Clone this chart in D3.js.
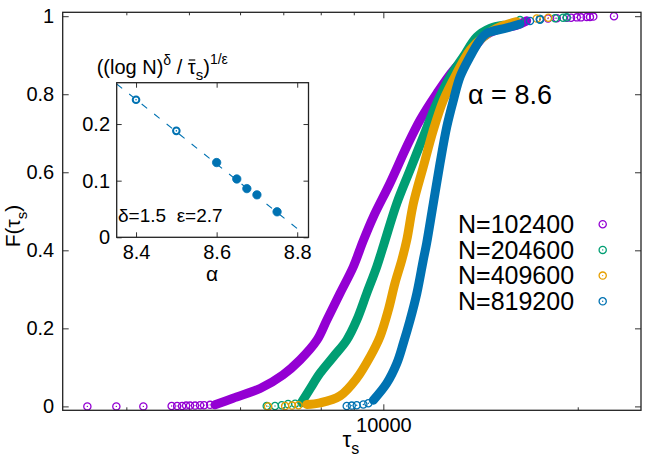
<!DOCTYPE html>
<html>
<head>
<meta charset="utf-8">
<script src="https://cdn.jsdelivr.net/npm/d3@7"></script>
<style>
  body { margin: 0; background: #fff; }
  text { font-family: "Liberation Sans", Arial, sans-serif; fill: #000; }
</style>
</head>
<body>
<svg id="chart" width="664" height="465"></svg>
<script>
// series labels + gnuplot default colours
const seriesLabels = ["N=102400", "N=204600", "N=409600", "N=819200"];
const seriesColors = ["#9400d3", "#009e73", "#e69f00", "#0072b2"];

// empirical CDF, dense part [tau, F]
const band102400 = [[5488,0.004],[5853,0.021],[6444,0.046],[6993,0.081],[7430,0.119],[7894,0.170],[8173,0.221],[8570,0.290],[8985,0.358],[9300,0.423],[9650,0.486],[10240,0.572],[10870,0.666],[11400,0.734],[12100,0.802],[12840,0.862],[13620,0.905],[14290,0.947],[14980,0.965],[16090,0.977],[16670,0.988]];
const band204600 = [[7475,0.011],[7700,0.045],[7980,0.085],[8366,0.127],[8776,0.170],[9095,0.221],[9426,0.290],[9768,0.358],[10030,0.418],[10490,0.520],[11000,0.606],[11530,0.691],[12100,0.777],[12690,0.845],[13300,0.896],[13950,0.947],[14630,0.969],[15340,0.977]];
const band409600 = [[7610,0.005],[7980,0.009],[8570,0.027],[9095,0.072],[9537,0.127],[9883,0.179],[10180,0.247],[10420,0.315],[10680,0.375],[10870,0.426],[11130,0.520],[11530,0.614],[11950,0.708],[12390,0.785],[12990,0.854],[13620,0.913],[14290,0.947],[14980,0.969],[16090,0.986]];
const band819200 = [[9650,0.016],[10120,0.059],[10490,0.110],[10740,0.162],[11000,0.221],[11270,0.290],[11530,0.375],[11670,0.418],[11950,0.520],[12240,0.623],[12540,0.717],[12840,0.785],[13150,0.845],[13620,0.896],[14120,0.939],[14460,0.956],[15530,0.970],[16280,0.980]];

// sparse tail samples [tau, F]
const tail102400 = [[3481,0],[3860,0],[4250,0],[4701,0.001],[4794,0.001],[4880,0.001],[4950,0.002],[5020,0.002],[5110,0.002],[5203,0.003],[5278,0.003],[5392,0.004],
  [17480,0.993],[17990,0.994],[18560,0.995],[19230,0.996],[19530,0.996],[19930,0.997],[20230,0.997],[20650,0.998],[20890,0.998],[21140,0.999],[22760,1.0]];
const tail204600 = [[6598,0.001],[6796,0.001],[6961,0.003],[7120,0.006],[7302,0.007],[7475,0.009],
  [16280,0.990],[17480,0.993],[18450,0.995],[18980,0.996],[19230,0.997]];
const tail409600 = [[6630,0],[7046,0.001],[7223,0.002],[7388,0.003],
  [17280,0.994],[18010,0.996]];
const tail819200 = [[8776,0.001],[8935,0.002],[9095,0.003],[9312,0.005],[9480,0.008],
  [16870,0.988],[17480,0.991]];

const bands = [band102400, band204600, band409600, band819200];
const tails = [tail102400, tail204600, tail409600, tail819200];

// axis ticks
const xMajor = [10000];
const xMinor = [4000, 5000, 6000, 7000, 8000, 9000, 20000];
const yTicks = [0, 0.2, 0.4, 0.6, 0.8, 1];

// inset: scaling collapse vs alpha
const insetAlpha = [8.4, 8.5, 8.6, 8.65, 8.675, 8.7, 8.75];
const insetValue = [0.243, 0.188, 0.132, 0.103, 0.086, 0.075, 0.045];
const insetMarker = ["open", "open", "filled", "filled", "filled", "filled", "filled"];
const fitSlope = -0.57, fitZero = 8.827;   // dashed fit line
const insetXTicks = [8.4, 8.6, 8.8];
const insetYTicks = [0, 0.1, 0.2];

const svg = d3.select("#chart");
svg.append("rect").attr("width", 664).attr("height", 465).attr("fill", "#fff");

const pLeft = 62.7, pRight = 641, pTop = 12.3, pBottom = 410.3;
const x = d3.scaleLog().domain([3188, 25060]).range([pLeft, pRight]);
const y = d3.scaleLinear().domain([-0.01, 1.01]).range([pBottom, pTop]);

function styleAxis(g, size) {
  g.select(".domain").remove();
  g.attr("font-family", "'Liberation Sans', Arial, sans-serif").attr("font-size", size);
  g.selectAll("line").attr("stroke", "#333").attr("stroke-width", 1);
  g.selectAll("text").attr("fill", "#000");
}

// main axes, ticks inward and mirrored
svg.append("g").attr("transform", `translate(0,${pBottom})`)
  .call(d3.axisBottom(x).tickValues(xMajor).tickSize(-6).tickPadding(7.2).tickFormat(d3.format("d")))
  .call(g => styleAxis(g, 20));
svg.append("g").attr("transform", `translate(0,${pBottom})`)
  .call(d3.axisBottom(x).tickValues(xMinor).tickSize(-3).tickFormat(""))
  .call(g => styleAxis(g, 20));
svg.append("g").attr("transform", `translate(0,${pTop})`)
  .call(d3.axisTop(x).tickValues(xMajor).tickSize(-6).tickFormat(""))
  .call(g => styleAxis(g, 20));
svg.append("g").attr("transform", `translate(0,${pTop})`)
  .call(d3.axisTop(x).tickValues(xMinor).tickSize(-3).tickFormat(""))
  .call(g => styleAxis(g, 20));
svg.append("g").attr("transform", `translate(${pLeft},0)`)
  .call(d3.axisLeft(y).tickValues(yTicks).tickSize(-6).tickPadding(8.5).tickFormat(d => String(d)))
  .call(g => styleAxis(g, 20));
svg.append("g").attr("transform", `translate(${pRight},0)`)
  .call(d3.axisRight(y).tickValues(yTicks).tickSize(-6).tickFormat(""))
  .call(g => styleAxis(g, 20));

// curves
const line = d3.line().x(d => x(d[0])).y(d => y(d[1])).curve(d3.curveCatmullRom);
bands.forEach((band, i) => {
  const g = svg.append("g");
  g.append("path").datum(band)
    .attr("d", line)
    .attr("fill", "none")
    .attr("stroke", seriesColors[i])
    .attr("stroke-width", 9)
    .attr("stroke-linecap", "round")
    .attr("stroke-linejoin", "round");
  const pts = g.selectAll("g.pt").data(tails[i]).join("g").attr("class", "pt")
    .attr("transform", d => `translate(${x(d[0])},${y(d[1])})`);
  pts.append("circle").attr("r", 3.6).attr("fill", "none")
    .attr("stroke", seriesColors[i]).attr("stroke-width", 1.3);
  pts.append("circle").attr("r", 0.7).attr("fill", seriesColors[i]);
});

// frame
svg.append("rect").attr("x", pLeft).attr("y", pTop)
  .attr("width", pRight - pLeft).attr("height", pBottom - pTop)
  .attr("fill", "none").attr("stroke", "#222").attr("stroke-width", 1.3);

// legend
const legend = svg.append("g");
seriesLabels.forEach((lab, i) => {
  const by = 233 + i * 25.7;
  legend.append("text").attr("x", 458).attr("y", by).attr("font-size", 25).text(lab);
  const p = legend.append("g").attr("transform", `translate(602.7,${by - 8.8})`);
  p.append("circle").attr("r", 3.6).attr("fill", "none")
    .attr("stroke", seriesColors[i]).attr("stroke-width", 1.3);
  p.append("circle").attr("r", 0.7).attr("fill", seriesColors[i]);
});

svg.append("text").attr("x", 468).attr("y", 104).attr("font-size", 27).text("α = 8.6");

// axis labels
const xl = svg.append("text").attr("x", 342.5).attr("y", 446.5).attr("font-size", 22);
xl.append("tspan").text("τ");
xl.append("tspan").attr("font-size", 16).attr("dy", 7).text("s");

const yl = svg.append("text").attr("transform", "translate(19.5,226) rotate(-90)")
  .attr("text-anchor", "middle").attr("font-size", 21);
yl.append("tspan").text("F(τ");
yl.append("tspan").attr("font-size", 15).attr("dy", 7).text("s");
yl.append("tspan").attr("dy", -7).text(")");

// inset
const iLeft = 116.7, iRight = 308.5, iTop = 82.7, iBottom = 237.3;
const ix = d3.scaleLinear().domain([8.352, 8.828]).range([iLeft, iRight]);
const iy = d3.scaleLinear().domain([0, 0.273]).range([iBottom, iTop]);

svg.append("rect").attr("x", iLeft).attr("y", iTop)
  .attr("width", iRight - iLeft).attr("height", iBottom - iTop).attr("fill", "#fff");

svg.append("g").attr("transform", `translate(0,${iBottom})`)
  .call(d3.axisBottom(ix).tickValues(insetXTicks).tickSize(-5).tickPadding(7.3).tickFormat(d => String(d)))
  .call(g => styleAxis(g, 20));
svg.append("g").attr("transform", `translate(0,${iTop})`)
  .call(d3.axisTop(ix).tickValues(insetXTicks).tickSize(-5).tickFormat(""))
  .call(g => styleAxis(g, 20));
svg.append("g").attr("transform", `translate(${iLeft},0)`)
  .call(d3.axisLeft(iy).tickValues(insetYTicks).tickSize(-5).tickPadding(6.7).tickFormat(d => String(d)))
  .call(g => styleAxis(g, 20));
svg.append("g").attr("transform", `translate(${iRight},0)`)
  .call(d3.axisRight(iy).tickValues(insetYTicks).tickSize(-5).tickFormat(""))
  .call(g => styleAxis(g, 20));

const fitLine = [8.352, 8.815].map(a => [a, fitSlope * (a - fitZero)]);
svg.append("path").datum(fitLine)
  .attr("d", d3.line().x(d => ix(d[0])).y(d => iy(d[1])))
  .attr("stroke", seriesColors[3]).attr("stroke-width", 1.1)
  .attr("stroke-dasharray", "7,9").attr("fill", "none");

const insetPts = insetAlpha.map((a, i) => ({ a, v: insetValue[i], m: insetMarker[i] }));
svg.append("g").selectAll("circle").data(insetPts).join("circle")
  .attr("cx", d => ix(d.a)).attr("cy", d => iy(d.v))
  .attr("r", d => d.m === "open" ? 3.3 : 4.2)
  .attr("fill", d => d.m === "open" ? "#fff" : seriesColors[3])
  .attr("stroke", seriesColors[3]).attr("stroke-width", d => d.m === "open" ? 2 : 0.8);
svg.append("g").selectAll("circle").data(insetPts.filter(d => d.m === "open")).join("circle")
  .attr("cx", d => ix(d.a)).attr("cy", d => iy(d.v)).attr("r", 0.8).attr("fill", seriesColors[3]);

svg.append("rect").attr("x", iLeft).attr("y", iTop)
  .attr("width", iRight - iLeft).attr("height", iBottom - iTop)
  .attr("fill", "none").attr("stroke", "#222").attr("stroke-width", 1.3);

svg.append("text").attr("x", 118).attr("y", 222).attr("font-size", 19)
  .style("white-space", "pre").text("δ=1.5  ε=2.7");
svg.append("text").attr("x", 212).attr("y", 281).attr("font-size", 21)
  .attr("text-anchor", "middle").text("α");

// inset title ((log N)^δ / τ̄_s)^(1/ε)
const tt = svg.append("text").attr("x", 96.7).attr("y", 74).attr("font-size", 20);
tt.append("tspan").text("((log N)");
tt.append("tspan").attr("font-size", 14).attr("dy", -9).text("δ");
tt.append("tspan").attr("dy", 9).style("white-space", "pre").text(" / ");
tt.append("tspan").text("τ");
tt.append("tspan").attr("font-size", 15).attr("dy", 6).text("s");
tt.append("tspan").attr("dy", -6).text(")");
tt.append("tspan").attr("font-size", 14).attr("dy", -10).text("1/ε");
const tauIdx = "((log N)δ / ".length;
const ext = tt.node().getExtentOfChar(tauIdx);
svg.append("line")
  .attr("x1", ext.x + 1).attr("x2", ext.x + ext.width - 0.5)
  .attr("y1", ext.y + 4).attr("y2", ext.y + 4)
  .attr("stroke", "#000").attr("stroke-width", 1.2);
</script>
</body>
</html>
